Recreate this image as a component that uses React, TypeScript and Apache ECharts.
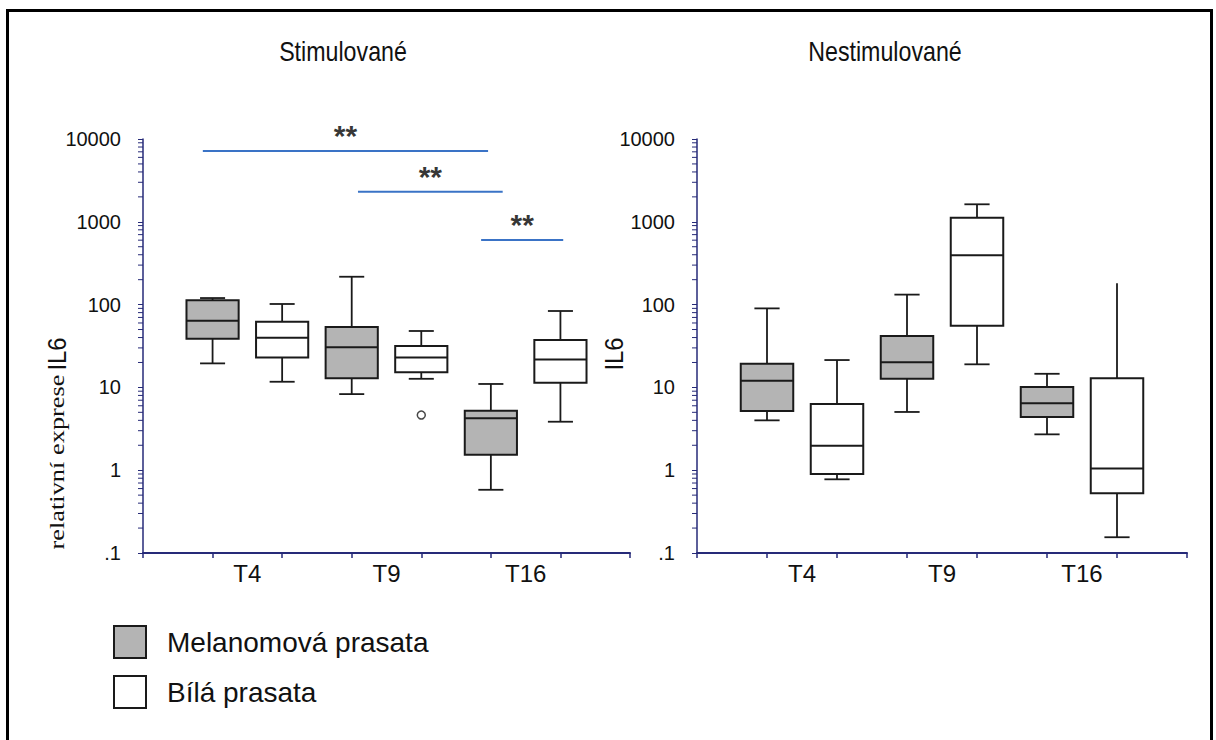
import { useEffect, useRef } from 'react';
import * as echarts from 'echarts';

const categories = ['T4', 'T9', 'T16'];
const panelTitles = ['Stimulované', 'Nestimulované'];
const seriesNames = ['Melanomová prasata', 'Bílá prasata'];
const yAxisTitle = 'relativní exprese';
const yAxisUnit = 'IL6';
const yTickValues = [0.1, 1, 10, 100, 1000, 10000];
const minorTickValues = [0.1, 1, 10, 100, 1000].flatMap((d) => [2, 3, 4, 5, 6, 7, 8, 9].map((m) => +(d * m).toPrecision(3)));

// [min, Q1, median, Q3, max] per category (T4, T9, T16)
const stimMelanom = [
  [19.5, 38.7, 64, 113, 120],
  [8.3, 12.9, 30.5, 53.6, 217],
  [0.58, 1.54, 4.24, 5.23, 11],
];
const stimWhite = [
  [11.7, 23, 39.8, 62, 101.7],
  [12.7, 15.2, 23, 31.6, 48],
  [3.85, 11.4, 21.8, 37.4, 83.7],
];
const stimWhiteOutliers = [[1, 4.64]]; // [category index, value]
const nonStimMelanom = [
  [4.0, 5.19, 12.05, 19.3, 90],
  [5.05, 12.7, 20.1, 41.8, 132],
  [2.71, 4.39, 6.43, 10.1, 14.6],
];
const nonStimWhite = [
  [0.776, 0.9, 1.98, 6.3, 21.4],
  [19.0, 55.6, 394, 1121, 1627],
  [0.155, 0.526, 1.05, 12.9, 181],
];
const nonStimWhiteTopCap = [1, 1, 0];
// significance brackets in the stimulated panel: [x start, x end, level]
const sigBrackets = [
  [0.86, 4.96, 7165],
  [3.09, 5.17, 2310],
  [4.86, 6.04, 603],
];
const sigLabel = '**';

const AXIS_COLOR = '#262a78';
const INK = '#1a1a1a';
const GRAY = '#b4b4b4';
const SANS = "'Liberation Sans', Arial, sans-serif";
const SERIF = "'Liberation Serif', 'Times New Roman', serif";

function makeBox(fill: string) {
  return (params: any, api: any) => {
    const x = api.value(0);
    const lo = api.value(1), q1 = api.value(2), md = api.value(3), q3 = api.value(4), hi = api.value(5);
    const cap = api.value(6);
    const hw = 0.375, cw = 0.18;
    const P = (dx: number, v: number) => api.coord([x + dx, v]);
    const tl = P(-hw, q3), br = P(hw, q1);
    const line = (a: number[], b: number[], w = 1.8) => ({
      type: 'line',
      shape: { x1: a[0], y1: a[1], x2: b[0], y2: b[1] },
      style: { stroke: INK, lineWidth: w },
    });
    const children: any[] = [
      line(P(0, q3), P(0, hi)),
      line(P(0, q1), P(0, lo)),
      line(P(-cw, lo), P(cw, lo)),
    ];
    if (cap) children.push(line(P(-cw, hi), P(cw, hi)));
    children.push({
      type: 'rect',
      shape: { x: tl[0], y: tl[1], width: br[0] - tl[0], height: br[1] - tl[1] },
      style: { fill, stroke: INK, lineWidth: 2 },
    });
    children.push(line(P(-hw, md), P(hw, md), 2));
    return { type: 'group', children };
  };
}

function minorTicksRender(params: any, api: any) {
  const p = api.coord([0, api.value(1)]);
  return {
    type: 'line',
    shape: { x1: p[0] - 5, y1: p[1], x2: p[0], y2: p[1] },
    style: { stroke: AXIS_COLOR, lineWidth: 1 },
  };
}

function boxData(boxes: number[][], offset: number, caps?: number[]) {
  return boxes.map((b, i) => [2 * i + offset, ...b, caps ? caps[i] : 1]);
}

export default function App() {
  const ref = useRef<HTMLDivElement>(null);
  useEffect(() => {
    if (!ref.current) return;
    const chart = echarts.init(ref.current, null, { renderer: 'svg' });
    const grids = [
      { left: 143, top: 139, width: 487, height: 414 },
      { left: 697, top: 139, width: 490, height: 414 },
    ];
    const xAxis = grids.map((_, gi) => ({
      type: 'value',
      gridIndex: gi,
      min: 0,
      max: 7,
      interval: 1,
      splitLine: { show: false },
      axisLine: { lineStyle: { color: AXIS_COLOR, width: 2 } },
      axisTick: { length: 5, lineStyle: { color: AXIS_COLOR, width: 1.5 } },
      axisLabel: {
        customValues: categories.map((_, i) => 2 * i + 1.5),
        formatter: (v: number) => categories[Math.round((v - 1.5) / 2)] ?? '',
        fontSize: 24,
        fontFamily: SANS,
        color: '#111',
        margin: 8,
      },
    }));
    const yAxis = grids.map((_, gi) => ({
      type: 'log',
      logBase: 10,
      gridIndex: gi,
      min: yTickValues[0],
      max: yTickValues[yTickValues.length - 1],
      splitNumber: 5,
      splitLine: { show: false },
      axisLine: { show: true, lineStyle: { color: AXIS_COLOR, width: 1.5 } },
      axisTick: { show: true, length: 5, lineStyle: { color: AXIS_COLOR, width: 1 } },
      axisLabel: {
        formatter: (v: number) => (v < 0.5 ? '.1' : String(Math.round(v))),
        fontSize: 20,
        fontFamily: SANS,
        color: '#111',
        margin: 22,
      },
    }));

    const series: any[] = [];
    const panels = [
      { mel: stimMelanom, white: stimWhite, caps: undefined as number[] | undefined },
      { mel: nonStimMelanom, white: nonStimWhite, caps: nonStimWhiteTopCap },
    ];
    panels.forEach((p, gi) => {
      series.push({
        type: 'custom', name: seriesNames[0], xAxisIndex: gi, yAxisIndex: gi,
        renderItem: makeBox(GRAY), encode: { x: 0, y: [1, 2, 3, 4, 5] },
        data: boxData(p.mel, 1), itemStyle: { color: GRAY }, silent: true,
      });
      series.push({
        type: 'custom', name: seriesNames[1], xAxisIndex: gi, yAxisIndex: gi,
        renderItem: makeBox('#ffffff'), encode: { x: 0, y: [1, 2, 3, 4, 5] },
        data: boxData(p.white, 2, p.caps), itemStyle: { color: '#fff' }, silent: true,
      });
      series.push({
        type: 'custom', name: 'minor', xAxisIndex: gi, yAxisIndex: gi,
        renderItem: minorTicksRender, encode: { x: 0, y: 1 }, clip: false,
        data: minorTickValues.map((v) => [0, v]), silent: true, z: 5,
      });
    });
    series.push({
      type: 'scatter', name: 'outlier', xAxisIndex: 0, yAxisIndex: 0,
      data: stimWhiteOutliers.map(([ci, v]) => [2 * ci + 2, v]),
      symbol: 'circle', symbolSize: 8,
      itemStyle: { color: '#fff', borderColor: INK, borderWidth: 1.5 }, silent: true, z: 6,
    });
    sigBrackets.forEach(([x1, x2, y], i) => {
      series.push({
        type: 'line', name: 'sig' + i, xAxisIndex: 0, yAxisIndex: 0,
        data: [[x1, y], [x2, y]], symbol: 'none', silent: true,
        lineStyle: { color: '#3a73c6', width: 2 },
      });
      series.push({
        type: 'scatter', name: 'siglabel' + i, xAxisIndex: 0, yAxisIndex: 0,
        data: [[(x1 + x2) / 2, y]], symbolSize: 1, itemStyle: { color: 'rgba(0,0,0,0)' }, silent: true,
        label: { show: true, position: 'top', distance: 0, formatter: sigLabel, fontSize: 30, fontWeight: 'bold', fontFamily: SANS, color: '#000' },
      });
    });

    chart.setOption({
      animation: false,
      backgroundColor: '#fff',
      legend: {
        orient: 'vertical', left: 113, top: 625, padding: 0,
        itemWidth: 32, itemHeight: 32, itemGap: 16, selectedMode: false,
        textStyle: { fontSize: 28, fontFamily: SANS, color: '#111', padding: [0, 0, 0, 16] },
        data: [
          { name: seriesNames[0], icon: 'rect', itemStyle: { color: GRAY, borderColor: INK, borderWidth: 2 } },
          { name: seriesNames[1], icon: 'rect', itemStyle: { color: '#fff', borderColor: INK, borderWidth: 2 } },
        ],
      },
      grid: grids.map((g) => ({ ...g, containLabel: false, outerBoundsMode: 'none' })),
      xAxis,
      yAxis,
      series,
      graphic: [
        {
          type: 'polyline',
          shape: { points: [[7.5, 760], [7.5, 10.5], [1211.5, 10.5], [1211.5, 760]] },
          style: { stroke: '#000', lineWidth: 3, fill: 'none' },
          silent: true,
        },
        ...panelTitles.map((t, i) => ({
          type: 'text', x: i === 0 ? 343 : 885, y: 51, scaleX: 0.86,
          style: { text: t, align: 'center', verticalAlign: 'middle', fontFamily: SANS, fontSize: 27, fill: '#111' },
        })),
        {
          type: 'text', x: 57, y: 462, rotation: Math.PI / 2, scaleX: 1.32,
          style: { text: yAxisTitle, align: 'center', verticalAlign: 'middle', fontFamily: SERIF, fontSize: 20, fill: '#111' },
        },
        ...[57, 614].map((x) => ({
          type: 'text', x, y: 354, rotation: Math.PI / 2, scaleX: 0.95,
          style: { text: yAxisUnit, align: 'center', verticalAlign: 'middle', fontFamily: SANS, fontSize: 25, fill: '#111' },
        })),
      ],
    });
    return () => chart.dispose();
  }, []);
  return <div ref={ref} style={{ position: 'fixed', left: 0, top: 0, width: 1216, height: 740, background: '#fff' }} />;
}
